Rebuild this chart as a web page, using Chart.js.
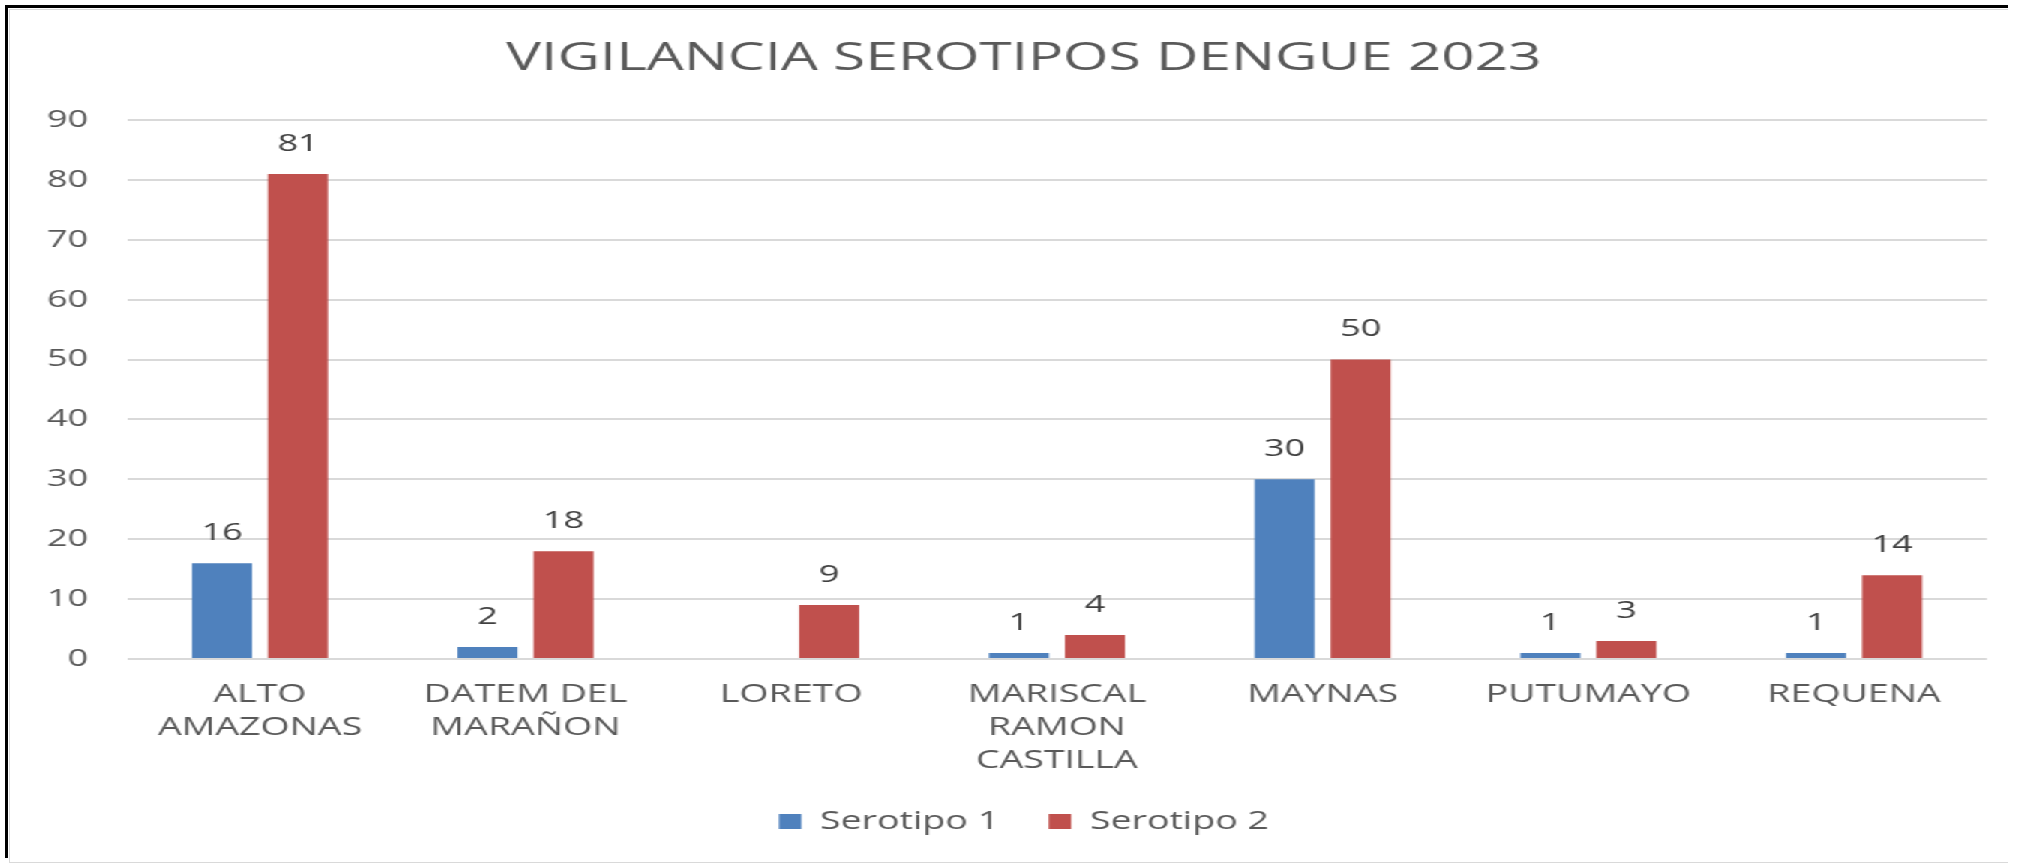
<!DOCTYPE html>
<html>
<head>
<meta charset="utf-8">
<script src="https://cdn.jsdelivr.net/npm/chart.js@4"></script>
<style>
  html, body { margin: 0; padding: 0; background: #ffffff; overflow: hidden; }
  #wrap { position: absolute; left: 0; top: 0; width: 1353px; height: 864px; background: #ffffff;
          transform: scaleX(1.5); transform-origin: 0 0; }
  #frame { position: absolute; left: 5px; top: 5px; width: 2000px; height: 850px;
           border-left: 3px solid #000; border-top: 3px solid #000; }
  #inner { position: absolute; left: 9px; top: 9px; width: 2000px; height: 852px;
           border-left: 1px solid #d9d9d9; border-top: 1px solid #d9d9d9; border-bottom: 1px solid #d9d9d9; }
  #edge { position: absolute; left: 2008px; top: 9px; width: 40px; height: 860px; background: #ffffff; }
</style>
</head>
<body>
<div id="wrap"><canvas id="c"></canvas></div>
<div id="frame"></div>
<div id="inner"></div>
<div id="edge"></div>
<script>
const categories = [
  ["ALTO", "AMAZONAS"],
  ["DATEM DEL", "MARAÑON"],
  "LORETO",
  ["MARISCAL", "RAMON", "CASTILLA"],
  "MAYNAS",
  "PUTUMAYO",
  "REQUENA"
];
const serotipo1 = [16, 2, null, 1, 30, 1, 1];
const serotipo2 = [81, 18, 9, 4, 50, 3, 14];
const seriesNames = ["Serotipo 1", "Serotipo 2"];
const titleText = "VIGILANCIA SEROTIPOS DENGUE 2023";
const yMin = 0, yMax = 90, yStep = 10;

const FONT = "'Open Sans', sans-serif";

const valueLabels = {
  id: 'valueLabels',
  afterDatasetsDraw(chart) {
    const ctx = chart.ctx;
    ctx.save();
    ctx.font = "24px " + FONT;
    ctx.fillStyle = "#404040";
    ctx.textAlign = "center";
    ctx.textBaseline = "middle";
    chart.data.datasets.forEach((ds, di) => {
      const meta = chart.getDatasetMeta(di);
      meta.data.forEach((bar, i) => {
        const v = ds.data[i];
        if (v === null || v === undefined) return;
        ctx.fillText(String(v), bar.x, bar.y - 30);
      });
    });
    ctx.restore();
  }
};

new Chart(document.getElementById('c'), {
  type: 'bar',
  data: {
    labels: categories,
    datasets: [
      { label: seriesNames[0], data: serotipo1, backgroundColor: '#4f81bd', borderWidth: 0,
        categoryPercentage: 0.572, barPercentage: 0.79 },
      { label: seriesNames[1], data: serotipo2, backgroundColor: '#c0504d', borderWidth: 0,
        categoryPercentage: 0.572, barPercentage: 0.79 }
    ]
  },
  options: {
    responsive: true,
    maintainAspectRatio: false,
    animation: false,
    layout: { padding: { left: 40.7, right: 28.3, top: 35.6, bottom: 20 } },
    plugins: {
      title: {
        display: true,
        text: titleText,
        color: '#595959',
        font: { family: FONT, size: 39, weight: 'normal' },
        padding: { top: 0, bottom: 37.6 }
      },
      legend: {
        display: true,
        position: 'bottom',
        labels: {
          color: '#595959',
          font: { family: FONT, size: 25 },
          boxWidth: 15,
          boxHeight: 15,
          padding: 33
        }
      },
      tooltip: { enabled: false }
    },
    scales: {
      x: {
        grid: { display: false, drawTicks: false },
        border: { display: false },
        ticks: {
          color: '#595959',
          font: { family: FONT, size: 25, lineHeight: 1.32 },
          padding: 19.5,
          maxRotation: 0,
          autoSkip: false
        },
        afterFit(scale) { scale.height = 117; }
      },
      y: {
        min: yMin,
        max: yMax,
        grid: { color: '#d9d9d9', lineWidth: 2, drawTicks: false },
        border: { display: false },
        ticks: {
          stepSize: yStep,
          color: '#595959',
          font: { family: FONT, size: 24 },
          padding: 26
        },
        afterFit(scale) {
          scale.width = 44;
          // let the tick labels extend past the narrow axis box instead of being clipped
          scale._computeLabelArea = function () { return undefined; };
        }
      }
    }
  },
  plugins: [valueLabels]
});
</script>
</body>
</html>
